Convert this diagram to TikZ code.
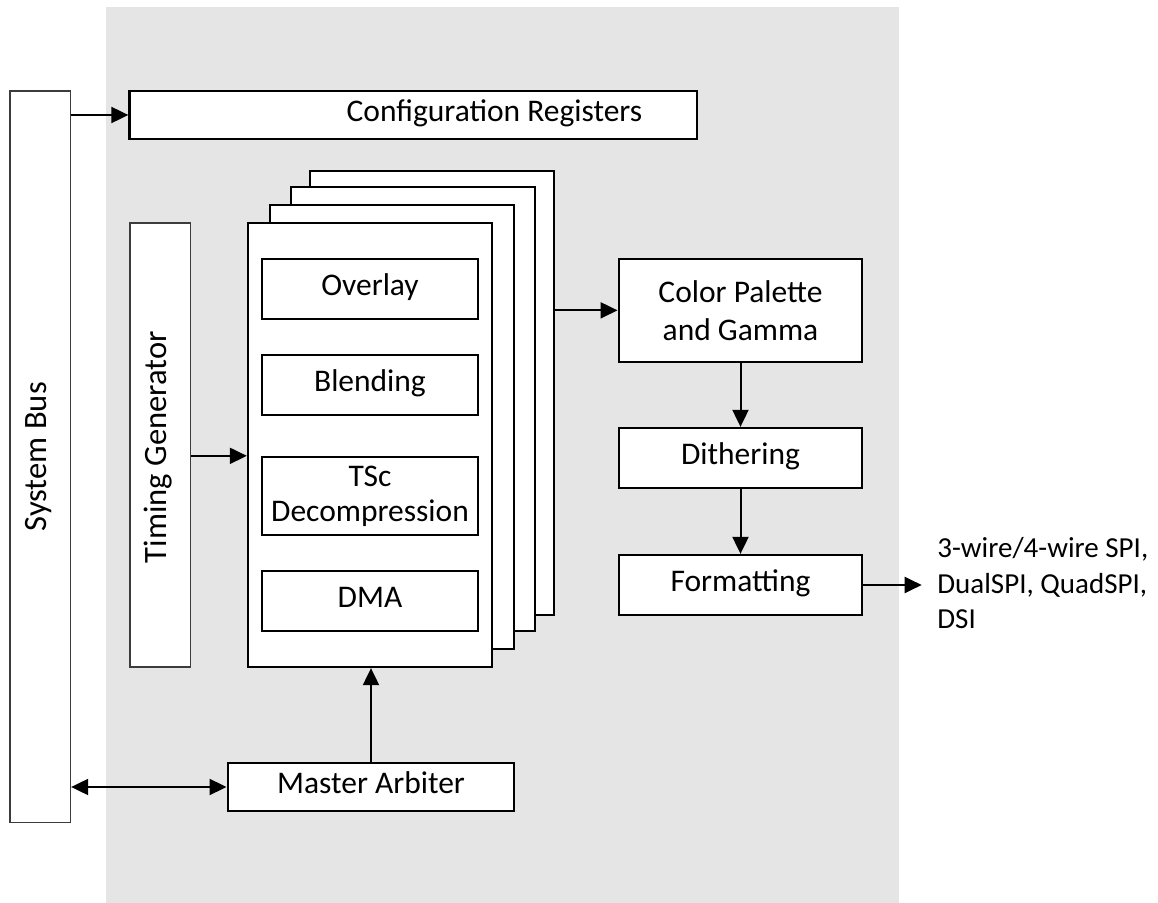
\documentclass[tikz,border=0pt]{standalone}
\usepackage{fontspec}
\setmainfont{Carlito}
\usetikzlibrary{arrows.meta}
\definecolor{bggray}{RGB}{229,229,229}
\definecolor{thinline}{RGB}{60,60,60}
\begin{document}
\begin{tikzpicture}[x=0.5pt,y=-0.5pt,
  font=\fontsize{15.75pt}{18.5pt}\selectfont,
  capc/.style={text height=0.83em, text depth=0.2em},
  bx/.style={draw=black, fill=white, line width=1.15pt, inner sep=0pt, align=center},
  thinbx/.style={draw=thinline, fill=white, line width=0.65pt, inner sep=0pt},
  rotlab/.style={rotate=90, capc, inner sep=0pt, font=\fontsize{16.3pt}{19pt}\selectfont},
  arr/.style={line width=1pt, -{Triangle[length=8.5pt,width=8pt]}},
  darr/.style={line width=1pt, {Triangle[length=8.5pt,width=8pt]}-{Triangle[length=8.5pt,width=8pt]}}]
\useasboundingbox (0,0) rectangle (1158,903);
\fill[bggray] (106,7) rectangle (899,903);

% left blocks
\node[thinbx, minimum width=30.25pt, minimum height=365.85pt,
  label={[rotlab]center:System Bus}] (sysbus) at (40.25,456.85) {};
\node[thinbx, minimum width=30.25pt, minimum height=222pt,
  label={[rotlab, xshift=-1pt]center:Timing Generator}] (timing) at (160.25,445) {};

\node[bx, minimum width=283.75pt, minimum height=24pt,
  label={[capc, inner sep=0pt, xshift=40.6pt]center:Configuration Registers}] (config) at (413.25,115) {};

% stacked layers
\node[bx, minimum width=122pt, minimum height=222pt] (s4) at (432,392.85) {};
\node[bx, minimum width=122pt, minimum height=222pt] (s3) at (413,408.85) {};
\node[bx, minimum width=122pt, minimum height=222pt] (s2) at (392.25,427) {};
\node[bx, minimum width=122pt, minimum height=222pt] (s1) at (370,445) {};

\node[bx, capc, minimum width=108pt, minimum height=30pt] (overlay) at (370,289) {Overlay};
\node[bx, capc, minimum width=108pt, minimum height=30pt] (blend) at (370,385) {Blending};
\node[bx, minimum width=108pt, minimum height=39pt, font=\fontsize{15.75pt}{17.4pt}\selectfont] (tsc) at (370,496) {TSc\\Decompression};
\node[bx, capc, minimum width=108pt, minimum height=30pt] (dma) at (370,601) {DMA};

\node[bx, capc, minimum width=143.3pt, minimum height=24pt] (master) at (371,787) {Master Arbiter};

% right pipeline
\node[bx, minimum width=121.8pt, minimum height=51.35pt, font=\fontsize{15.75pt}{18.9pt}\selectfont] (color) at (740.5,310.35) {Color Palette\\and Gamma};
\node[bx, capc, minimum width=121.8pt, minimum height=30pt] (dither) at (740.5,458) {Dithering};
\node[bx, capc, minimum width=121.8pt, minimum height=30pt] (format) at (740.5,585) {Formatting};

\node[anchor=base west, inner sep=0pt, align=left, font=\fontsize{14.5pt}{17.75pt}\selectfont] (out) at (937,629)
  {3-wire/4-wire SPI,\\DualSPI, QuadSPI,\\DSI};
\coordinate (outtip) at (921.7,584);

% connectors
\draw[arr] (sysbus.east |- config.west) -- (config.west);
\draw[arr] (timing.east |- tsc.north) -- (s1.west |- tsc.north);
\draw[arr] (s4.east |- color.west) -- (color.west);
\draw[arr] (color.south) -- (dither.north);
\draw[arr] (dither.south) -- (format.north);
\draw[arr] (format.east) -- (format.east -| outtip);
\draw[arr] (master.north) -- (master.north |- s1.south);
\draw[darr] (sysbus.east |- master.west) -- (master.west);
\end{tikzpicture}
\end{document}
